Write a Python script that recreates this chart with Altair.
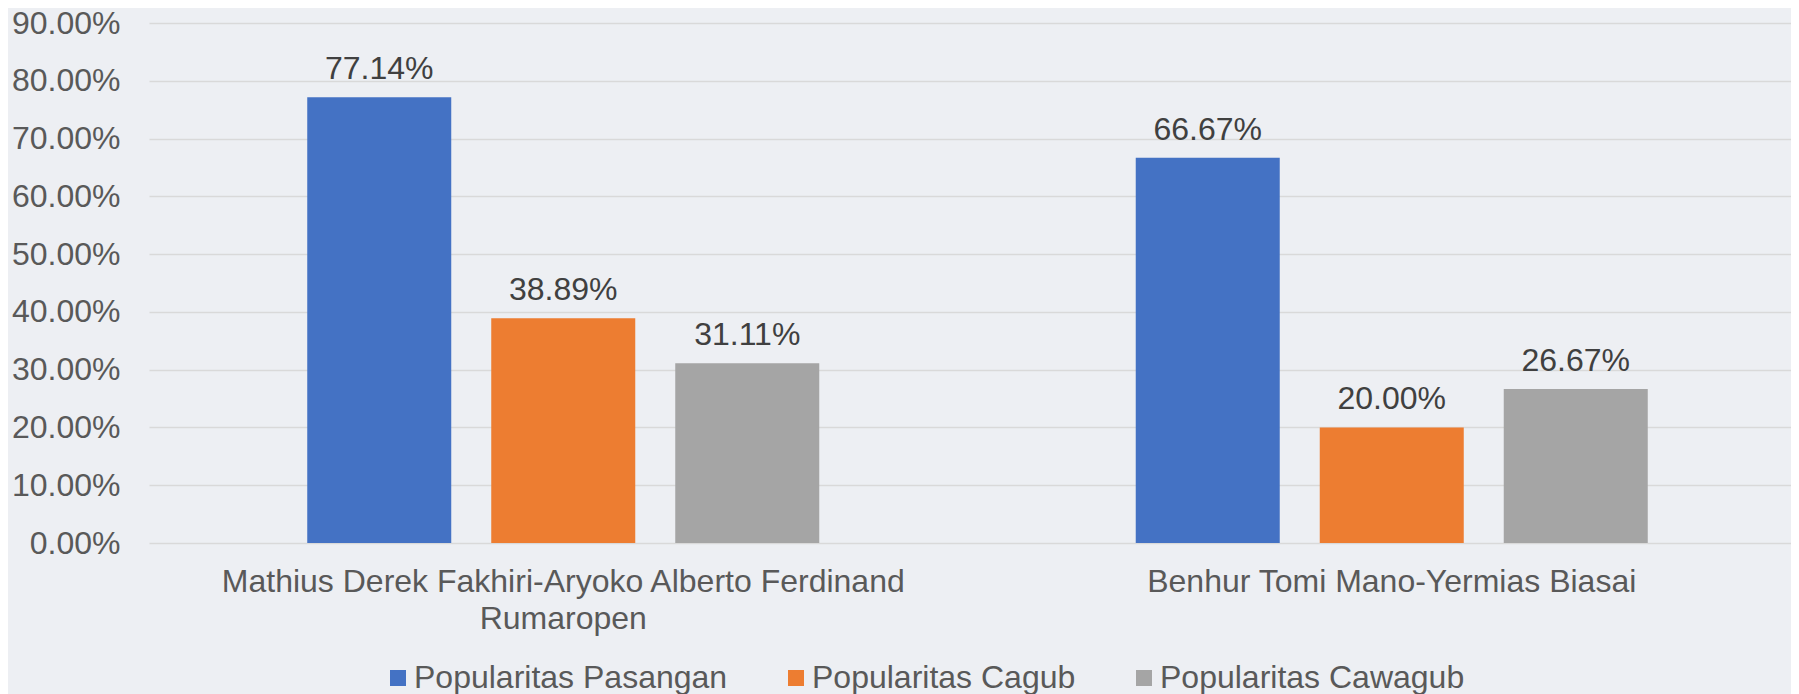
import json
import altair as alt
import pandas as pd

# ---- data ----
candidates = [
    "Mathius Derek Fakhiri-Aryoko Alberto Ferdinand Rumaropen",
    "Benhur Tomi Mano-Yermias Biasai",
]
candidate_lines = [
    ["Mathius Derek Fakhiri-Aryoko Alberto Ferdinand", "Rumaropen"],
    ["Benhur Tomi Mano-Yermias Biasai"],
]
series = ["Popularitas Pasangan", "Popularitas Cagub", "Popularitas Cawagub"]
colors = ["#4472C4", "#ED7D31", "#A5A5A5"]
pasangan = [0.7714, 0.6667]
cagub = [0.3889, 0.2000]
cawagub = [0.3111, 0.2667]
y_ticks = [0.0, 0.1, 0.2, 0.3, 0.4, 0.5, 0.6, 0.7, 0.8, 0.9]

rows = []
for s, vals in zip(series, [pasangan, cagub, cawagub]):
    for c, v in zip(candidates, vals):
        rows.append({"candidate": c, "series": s, "value": v})
df = pd.DataFrame(rows)

FONT = "Liberation Sans"
AXIS_COLOR = "#595959"
LABEL_COLOR = "#404040"

label_expr = " : ".join(
    f"datum.value == {json.dumps(c)} ? {json.dumps(lines)}"
    for c, lines in zip(candidates[:-1], candidate_lines[:-1])
) + f" : {json.dumps(candidate_lines[-1])}"

x_enc = alt.X(
    "candidate:N",
    sort=candidates,
    scale=alt.Scale(range=[0, 1657], paddingInner=0, paddingOuter=0),
    axis=alt.Axis(
        title=None,
        labelAngle=0,
        labelExpr=label_expr,
        labelFont=FONT,
        labelFontSize=32,
        labelColor=AXIS_COLOR,
        labelLineHeight=37,
        labelPadding=23,
        labelLimit=0,
        labelOverlap=False,
        labelBaseline="top",
        ticks=False,
        domain=False,
        grid=False,
    ),
)
xoff_enc = alt.XOffset(
    "series:N", sort=series, scale=alt.Scale(paddingInner=0.2174, paddingOuter=0.86)
)
y_enc = alt.Y(
    "value:Q",
    scale=alt.Scale(domain=[0, 0.9], nice=False),
    axis=alt.Axis(
        title=None,
        values=y_ticks,
        format=".2%",
        labelFont=FONT,
        labelFontSize=32,
        labelColor=AXIS_COLOR,
        labelPadding=29,
        ticks=False,
        domain=False,
        gridColor="#d9d9d9",
        gridWidth=1.5,
    ),
)

bars = alt.Chart(df).mark_bar().encode(
    x=x_enc,
    xOffset=xoff_enc,
    y=y_enc,
    color=alt.Color(
        "series:N",
        sort=series,
        scale=alt.Scale(domain=series, range=colors),
        legend=alt.Legend(
            title=None,
            orient="none",
            legendX=233,
            legendY=639,
            direction="horizontal",
            columns=3,
            symbolType="square",
            symbolSize=256,
            symbolStrokeWidth=0,
            labelFont=FONT,
            labelFontSize=32,
            labelColor=AXIS_COLOR,
            labelOffset=0,
            labelLimit=0,
            columnPadding=52,
            padding=0,
        ),
    ),
)

labels = alt.Chart(df).mark_text(
    baseline="alphabetic", dy=-18, font=FONT, fontSize=32, color=LABEL_COLOR
).encode(
    x=x_enc,
    xOffset=xoff_enc,
    y=y_enc,
    text=alt.Text("value:Q", format=".2%"),
)

chart = (
    alt.layer(bars, labels)
    .properties(
        width=1642,
        height=520,
        autosize=alt.AutoSizeParams(type="none"),
        padding={"left": 141, "top": 15, "right": 0, "bottom": 151},
        background="#edeff3",
    )
    .configure_view(stroke=None)
)

chart.save("out.html", embed_options={"renderer": "svg", "actions": False})
